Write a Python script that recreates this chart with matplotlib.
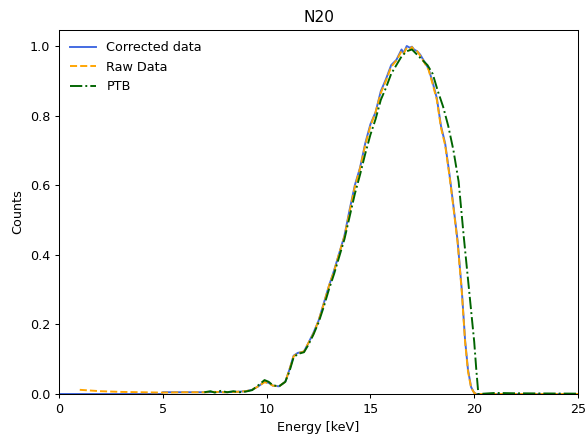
import matplotlib
matplotlib.use('Agg')
import matplotlib.pyplot as plt

# Corrected data
corr_energy = [0.0, 4.95, 5.0, 6.0, 7.0, 7.5, 8.0, 8.5, 9.0, 9.3, 9.6, 9.9, 10.1, 10.3, 10.6,
               10.9, 11.1, 11.3, 11.5, 11.8, 12.0, 12.25, 12.5, 12.75, 13.0, 13.25, 13.5,
               13.75, 14.0, 14.25, 14.5, 14.75, 15.0, 15.25, 15.5, 15.75, 16.0, 16.25, 16.5,
               16.6, 16.75, 16.9, 17.0, 17.1, 17.25, 17.4, 17.6, 17.8, 18.0, 18.2, 18.4,
               18.6, 18.8, 19.0, 19.2, 19.4, 19.56, 19.7, 19.85, 20.0, 20.1, 25.0]
corr_counts = [0.0, 0.0, 0.005, 0.005, 0.005, 0.006, 0.005, 0.006, 0.008, 0.012, 0.022, 0.035,
               0.032, 0.024, 0.022, 0.035, 0.07, 0.11, 0.118, 0.122, 0.145, 0.175, 0.21, 0.26,
               0.31, 0.355, 0.405, 0.455, 0.53, 0.6, 0.65, 0.72, 0.775, 0.81, 0.87, 0.905,
               0.945, 0.96, 0.99, 0.98, 1.0, 0.995, 0.998, 0.99, 0.985, 0.975, 0.955, 0.935,
               0.895, 0.85, 0.77, 0.72, 0.635, 0.54, 0.44, 0.3, 0.155, 0.07, 0.02, 0.003,
               0.0, 0.0]

# Raw data
raw_energy = [1.0, 1.5, 2.0, 3.0, 4.0, 5.0, 6.0, 7.0, 7.5, 8.0, 8.5, 9.0, 9.3, 9.6, 9.9,
              10.1, 10.3, 10.6, 10.9, 11.1, 11.3, 11.5, 11.8, 12.0, 12.25, 12.5, 12.75, 13.0,
              13.25, 13.5, 13.75, 14.0, 14.25, 14.5, 14.75, 15.0, 15.25, 15.5, 15.75, 16.0,
              16.25, 16.5, 16.6, 16.75, 16.9, 17.0, 17.1, 17.25, 17.4, 17.6, 17.8, 18.0,
              18.2, 18.4, 18.6, 18.8, 19.0, 19.2, 19.4, 19.56, 19.7, 19.85, 20.0, 20.1, 25.0]
raw_counts = [0.012, 0.01, 0.008, 0.006, 0.005, 0.004, 0.005, 0.005, 0.006, 0.005, 0.006,
              0.008, 0.012, 0.022, 0.034, 0.031, 0.024, 0.022, 0.035, 0.07, 0.108, 0.117,
              0.122, 0.145, 0.172, 0.21, 0.258, 0.31, 0.352, 0.405, 0.452, 0.525, 0.595,
              0.648, 0.715, 0.77, 0.81, 0.865, 0.9, 0.94, 0.958, 0.985, 0.978, 0.995, 0.99,
              0.997, 0.988, 0.985, 0.972, 0.952, 0.932, 0.89, 0.845, 0.765, 0.715, 0.63,
              0.535, 0.435, 0.295, 0.15, 0.065, 0.018, 0.003, 0.0, 0.0]

# PTB reference
ptb_energy = [7.0, 7.3, 7.5, 7.8, 8.1, 8.4, 8.7, 9.0, 9.3, 9.6, 9.9, 10.1, 10.3, 10.6, 10.9,
              11.1, 11.3, 11.5, 11.8, 12.0, 12.25, 12.5, 12.75, 13.0, 13.25, 13.5, 13.75,
              14.0, 14.25, 14.5, 14.75, 15.0, 15.25, 15.5, 15.75, 16.0, 16.25, 16.5, 16.75,
              17.0, 17.25, 17.5, 17.75, 18.0, 18.25, 18.5, 18.75, 19.0, 19.25, 19.5, 19.75,
              20.0, 20.1, 20.2, 21.0, 22.0, 25.0]
ptb_counts = [0.005, 0.008, 0.004, 0.009, 0.005, 0.008, 0.005, 0.007, 0.011, 0.025, 0.04,
              0.035, 0.025, 0.022, 0.035, 0.065, 0.105, 0.115, 0.12, 0.14, 0.17, 0.205, 0.25,
              0.3, 0.345, 0.395, 0.445, 0.51, 0.575, 0.63, 0.69, 0.745, 0.79, 0.845, 0.88,
              0.92, 0.945, 0.97, 0.985, 0.99, 0.975, 0.96, 0.945, 0.92, 0.87, 0.826, 0.77,
              0.7, 0.61, 0.45, 0.3, 0.15, 0.07, 0.0, 0.003, 0.002, 0.001]

fig = plt.figure(figsize=(587 / 92, 441 / 92), dpi=92)
ax = fig.add_axes([0.1005, 0.1066, 0.8842, 0.8254])

ax.plot(corr_energy, corr_counts, color='royalblue', label='Corrected data')
ax.plot(raw_energy, raw_counts, color='orange', linestyle='--', label='Raw Data')
ax.plot(ptb_energy, ptb_counts, color='darkgreen', linestyle='-.', label='PTB')

ax.set_xlim(0, 25)
ax.set_ylim(0, 1.046)
ax.set_title('N20')
ax.set_xlabel('Energy [keV]')
ax.set_ylabel('Counts')
ax.legend(loc='upper left', frameon=False)

fig.savefig('out.png', dpi=92)
